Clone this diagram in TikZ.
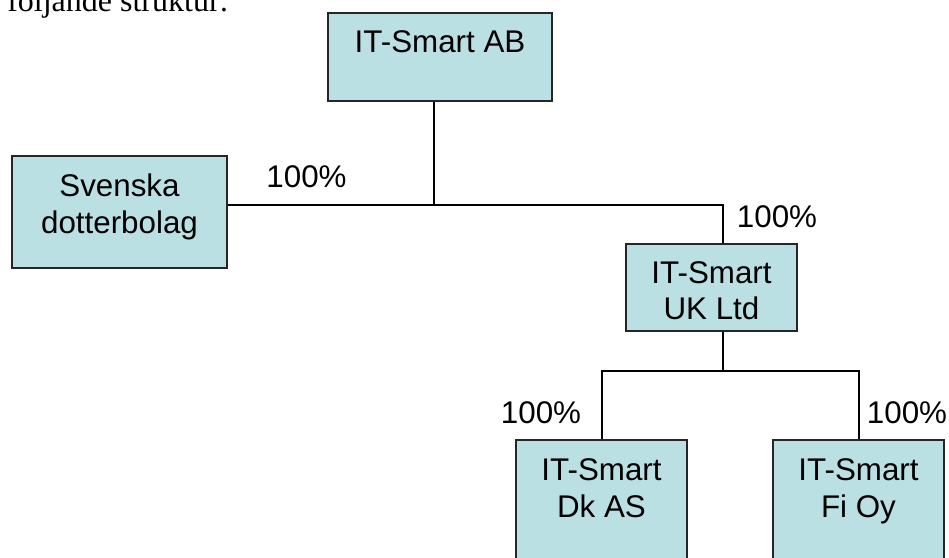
\documentclass[tikz,border=0pt]{standalone}
\usepackage{fontspec}
\setmainfont{Liberation Serif}
\newfontfamily\arial{Liberation Sans}
\usepackage{tikz}
\usetikzlibrary{positioning}

\begin{document}
\begin{tikzpicture}[x=0.75pt,y=-0.75pt,
  orgbox/.style={draw=black!85,fill=boxfill,line width=1.5pt,inner sep=0pt},
  boxtext/.style={anchor=north,align=center,inner sep=0pt,
    font=\arial\fontsize{23.5}{27.5}\selectfont},
  pct/.style={anchor=base,inner sep=0pt,font=\arial\fontsize{23.5}{27.5}\selectfont},
  link/.style={draw=black,line width=1.5pt}]
\definecolor{boxfill}{HTML}{BBE0E3}
\useasboundingbox (0,0) rectangle (949,557);
\clip (0,0) rectangle (949,557);

% text above the chart
\node[anchor=base west,inner sep=0pt,font=\fontsize{24}{29}\selectfont] (intro) at (7,11) {följande struktur:};

% boxes
\node[orgbox,minimum width=168pt,minimum height=66pt] (ab) at (440,57) {};
\node[orgbox,minimum width=161.25pt,minimum height=84pt] (sv) at (119.5,212) {};
\node[orgbox,minimum width=128.25pt,minimum height=65.25pt] (uk) at (711.5,287.5) {};
\node[orgbox,minimum width=128.25pt,minimum height=120pt] (dk) at (601.5,520) {};
\node[orgbox,minimum width=128.25pt,minimum height=120pt] (fi) at (858.5,520) {};

% box texts
\node[boxtext] (abtext) at ([yshift=-14pt]ab.north) {IT-Smart AB};
\node[boxtext] (svtext) at ([yshift=-14pt]sv.north) {Svenska\\dotterbolag};
\node[boxtext] (uktext) at ([yshift=-13.5pt]uk.north) {IT-Smart\\UK Ltd};
\node[boxtext] (dktext) at ([yshift=-14.5pt]dk.north) {IT-Smart\\Dk AS};
\node[boxtext] (fitext) at ([yshift=-14.5pt]fi.north) {IT-Smart\\Fi Oy};

% connectors
\coordinate (abfoot) at (434,205);
\coordinate (ukhead) at (723,205);
\coordinate (ukfoot) at (723,371);
\draw[link] (ab.south -| abfoot) -- (abfoot);
\draw[link] (sv.east |- abfoot) -- (ukhead) -- (uk.north -| ukhead);
\draw[link] (uk.south -| ukfoot) -- (ukfoot);
\draw[link] (dk.north) -- (dk.north |- ukfoot) -- (fi.north |- ukfoot) -- (fi.north);

% ownership shares
\node[pct] (pctsv) at (306.5,187) {100\%};
\node[pct] (pctuk) at (777,227) {100\%};
\node[pct] (pctdk) at (541,423) {100\%};
\node[pct] (pctfi) at (907,423) {100\%};
\end{tikzpicture}
\end{document}
